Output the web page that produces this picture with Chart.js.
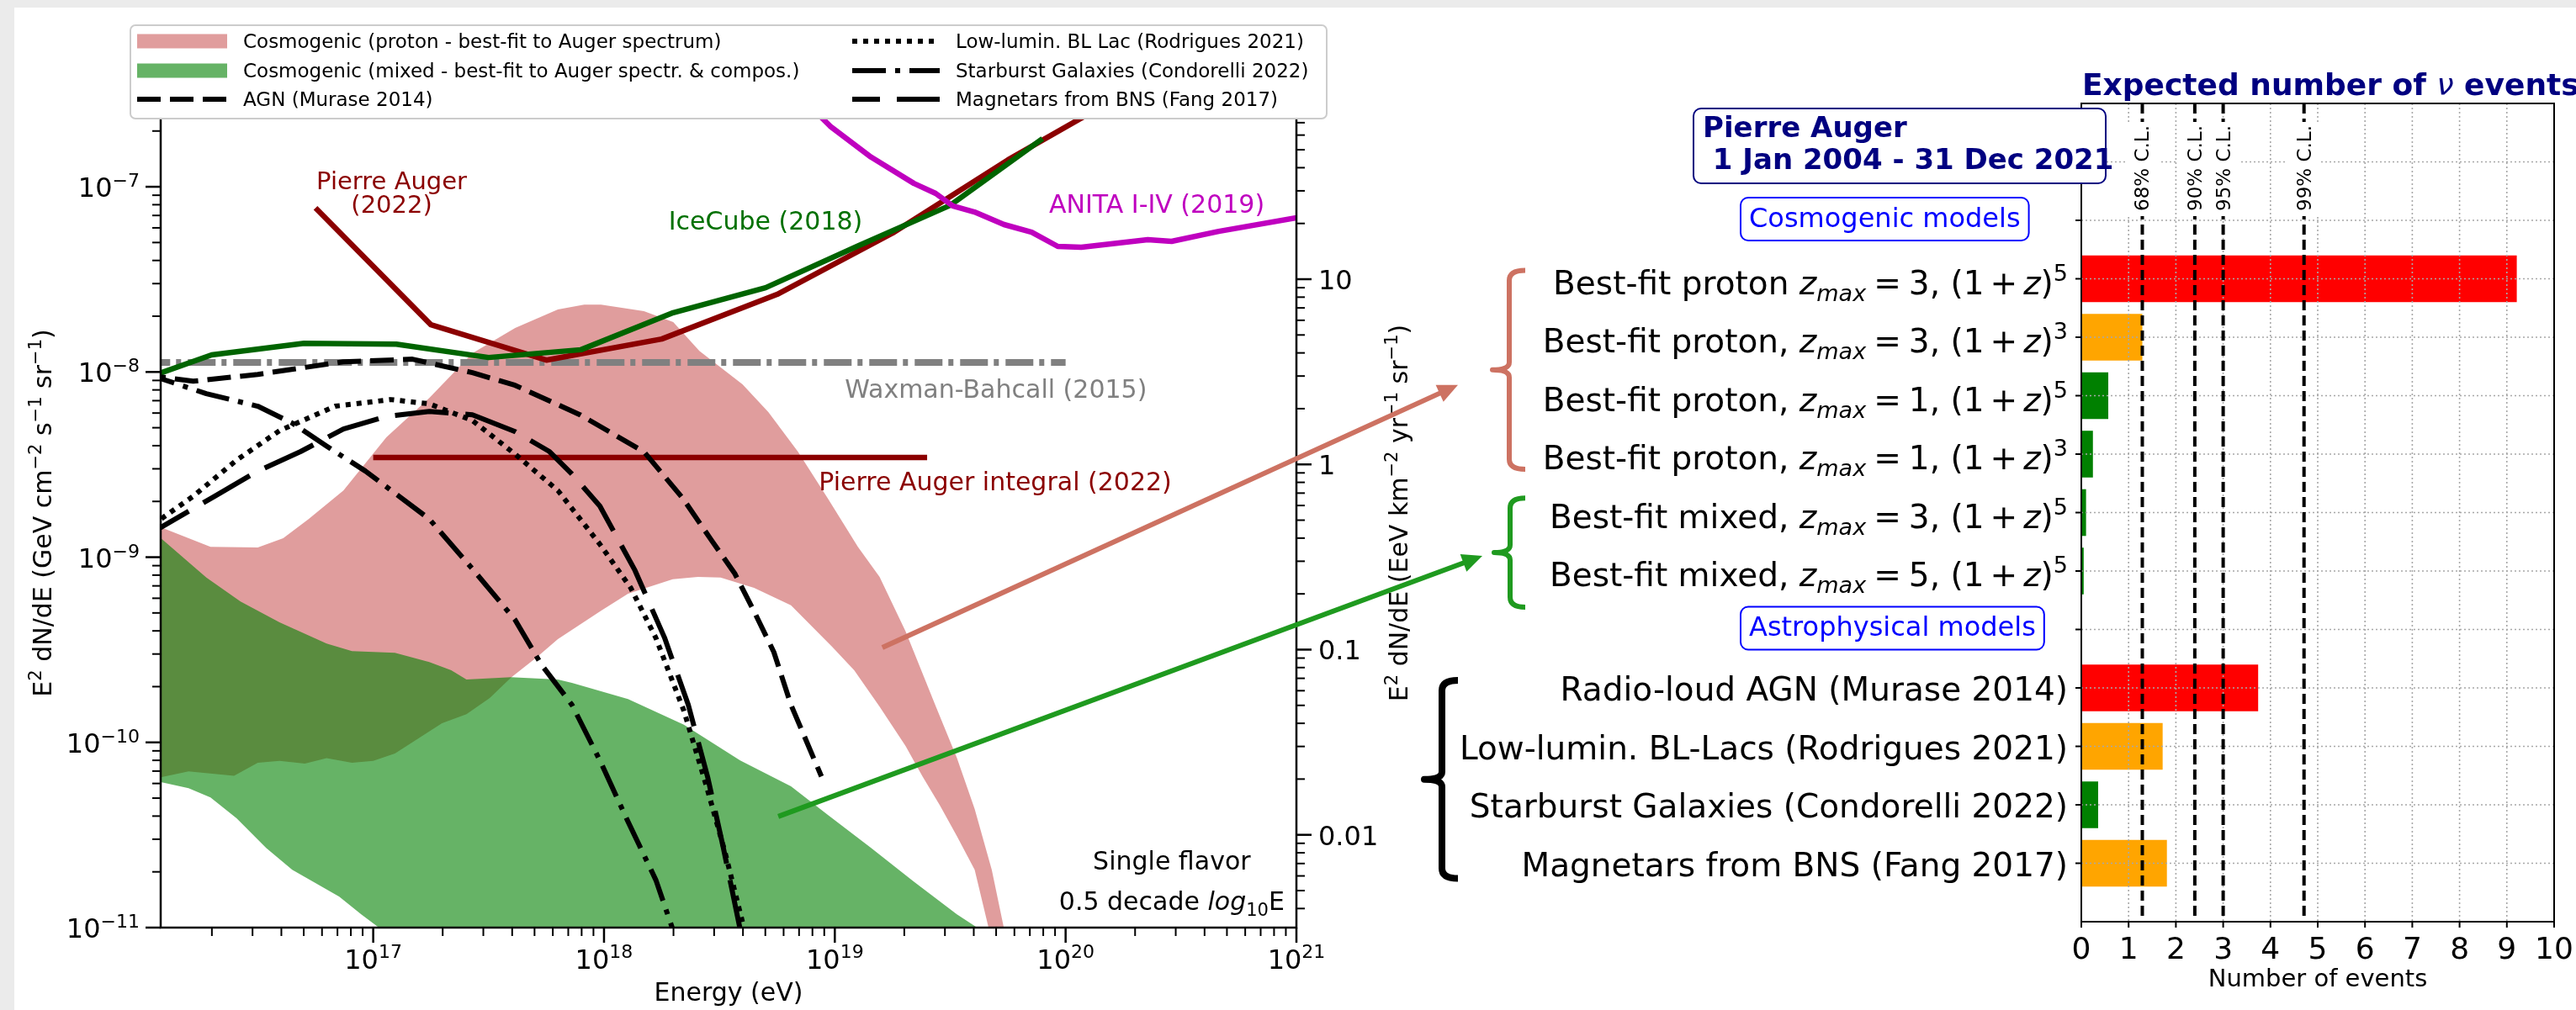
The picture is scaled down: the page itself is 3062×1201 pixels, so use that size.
<!DOCTYPE html>
<html>
<head>
<meta charset="utf-8">
<script src="https://cdn.jsdelivr.net/npm/chart.js"></script>
<style>
  html, body { margin: 0; padding: 0; background: #ebebeb; }
  #wrap { position: relative; width: 3062px; height: 1201px; overflow: hidden; }
  #paper { position: absolute; left: 17px; top: 9px; right: 0; bottom: 0; background: #fff; }
  canvas { position: absolute; left: 0; top: 0; }
</style>
</head>
<body>
<div id="wrap">
  <div id="paper"></div>
  <canvas id="spectrum" width="3062" height="1201"></canvas>
  <canvas id="events" width="3062" height="1201"></canvas>
</div>
<script>
// ---- left panel: log10(E / eV) and log10(E^2 dN/dE / GeV cm^-2 s^-1 sr^-1) ----
const augerDiffLogE = [16.75, 17.25, 17.75, 18.25, 18.75, 19.25, 19.75, 20.25];
const augerDiffLogF = [-7.114, -7.745, -7.936, -7.822, -7.581, -7.25, -6.855, -6.5];

const augerIntLogE = [17.0, 19.4];
const augerIntLogF = [-8.462, -8.462];

const icecubeLogE = [16.0, 16.3, 16.7, 17.1, 17.5, 17.9, 18.3, 18.7, 19.1, 19.5, 19.9];
const icecubeLogF = [-8.04, -7.908, -7.845, -7.85, -7.922, -7.88, -7.68, -7.545, -7.32, -7.10, -6.74];

const anitaLogE = [18.8, 18.98, 19.157, 19.343, 19.437, 19.511, 19.605, 19.733, 19.853, 19.966, 20.068, 20.356, 20.459, 20.663, 21.0];
const anitaLogF = [-6.45, -6.673, -6.84, -6.982, -7.036, -7.104, -7.136, -7.204, -7.245, -7.322, -7.327, -7.286, -7.295, -7.241, -7.168];

const wbLogE = [16.0, 20.0];
const wbLogF = [-7.949, -7.949];

const agnLogE = [16.0, 16.08, 16.22, 16.5, 16.87, 17.17, 17.43, 17.615, 17.896, 18.173, 18.34, 18.468, 18.566, 18.65, 18.736, 18.81, 18.942];
const agnLogF = [-8.01, -8.027, -8.05, -8.013, -7.945, -7.931, -8.004, -8.072, -8.231, -8.431, -8.68, -8.913, -9.087, -9.292, -9.513, -9.797, -10.184];

const bllacLogE = [16.0, 16.08, 16.22, 16.408, 16.594, 16.835, 17.075, 17.243, 17.43, 17.615, 17.80, 17.982, 18.116, 18.224, 18.346, 18.444, 18.523, 18.608];
const bllacLogF = [-8.85, -8.794, -8.671, -8.476, -8.317, -8.185, -8.149, -8.172, -8.262, -8.444, -8.64, -8.93, -9.166, -9.434, -9.829, -10.237, -10.587, -11.01];

const starburstLogE = [16.0, 16.08, 16.277, 16.5, 16.649, 16.798, 16.966, 17.112, 17.243, 17.429, 17.615, 17.728, 17.861, 17.982, 18.104, 18.225, 18.298];
const starburstLogF = [-8.0, -8.036, -8.117, -8.185, -8.276, -8.4, -8.535, -8.671, -8.794, -9.062, -9.339, -9.579, -9.797, -10.097, -10.428, -10.744, -11.01];

const magnetarLogE = [16.0, 16.08, 16.313, 16.5, 16.685, 16.871, 17.057, 17.243, 17.43, 17.615, 17.764, 17.861, 17.982, 18.134, 18.262, 18.365, 18.45, 18.517, 18.59];
const magnetarLogF = [-8.9, -8.839, -8.671, -8.535, -8.43, -8.308, -8.24, -8.213, -8.231, -8.322, -8.43, -8.551, -8.724, -9.071, -9.434, -9.797, -10.192, -10.569, -11.01];

// bands: upper and lower edges
const protonUpLogE = [16.0, 16.08, 16.295, 16.5, 16.61, 16.72, 16.871, 17.057, 17.243, 17.43, 17.615, 17.80, 17.914, 17.987, 18.173, 18.30, 18.413, 18.6, 18.712, 18.84, 18.971, 19.10, 19.194, 19.307, 19.438, 19.529, 19.606, 19.68, 19.733, 19.76];
const protonUpLogF = [-8.80, -8.839, -8.944, -8.948, -8.898, -8.794, -8.64, -8.353, -8.14, -7.899, -7.763, -7.663, -7.636, -7.636, -7.672, -7.731, -7.886, -8.067, -8.217, -8.43, -8.685, -8.944, -9.107, -9.402, -9.807, -10.084, -10.36, -10.688, -11.005, -11.15];
const protonLoLogE = [16.0, 16.08, 16.2, 16.397, 16.5, 16.594, 16.704, 16.798, 16.908, 17.0, 17.094, 17.206, 17.298, 17.404, 17.505, 17.597, 17.71, 17.80, 17.987, 18.104, 18.298, 18.407, 18.505, 18.65, 18.81, 18.989, 19.084, 19.194, 19.307, 19.38, 19.456, 19.529, 19.606, 19.667, 19.70];
const protonLoLogF = [-10.17, -10.188, -10.156, -10.18, -10.11, -10.1, -10.115, -10.085, -10.11, -10.1, -10.06, -9.97, -9.897, -9.848, -9.76, -9.65, -9.539, -9.442, -9.289, -9.197, -9.119, -9.107, -9.11, -9.166, -9.26, -9.484, -9.611, -9.807, -10.02, -10.184, -10.342, -10.506, -10.688, -11.005, -11.15];

const mixedUpLogE = [16.0, 16.08, 16.277, 16.425, 16.594, 16.798, 16.908, 17.094, 17.243, 17.338, 17.404, 17.597, 17.80, 17.861, 18.104, 18.346, 18.59, 18.81, 18.971, 19.157, 19.343, 19.529, 19.623, 19.66];
const mixedUpLogF = [-8.85, -8.898, -9.11, -9.239, -9.352, -9.466, -9.507, -9.516, -9.566, -9.611, -9.661, -9.648, -9.661, -9.679, -9.766, -9.904, -10.097, -10.237, -10.393, -10.57, -10.752, -10.929, -11.005, -11.06];
const mixedLoLogE = [16.0, 16.08, 16.2, 16.295, 16.408, 16.536, 16.649, 16.74, 16.853, 16.948, 17.03, 17.06];
const mixedLoLogF = [-10.2, -10.215, -10.247, -10.297, -10.41, -10.57, -10.688, -10.752, -10.833, -10.929, -11.005, -11.06];

// axes
const energyTickExp = [17, 18, 19, 20, 21];
const fluxTickExp = [-11, -10, -9, -8, -7];
const rateTickLabels = ['0.01', '0.1', '1', '10'];
const gevToEevKmYr = 3.156e8;   // GeV cm^-2 s^-1 -> EeV km^-2 yr^-1

// ---- right panel ----
const cosmoComposition = ['proton', 'proton', 'proton', 'proton', 'mixed', 'mixed'];
const cosmoSep = ['', ',', ',', ',', ',', ','];
const cosmoZmax = [3, 3, 1, 1, 3, 5];
const cosmoEvolution = [5, 3, 5, 3, 5, 5];
const cosmoEvents = [9.21, 1.29, 0.57, 0.245, 0.10, 0.05];
const cosmoColors = ['red', 'orange', 'green', 'green', 'green', 'green'];

const astroModels = ['Radio-loud AGN (Murase 2014)', 'Low-lumin. BL-Lacs (Rodrigues 2021)', 'Starburst Galaxies (Condorelli 2022)', 'Magnetars from BNS (Fang 2017)'];
const astroEvents = [3.74, 1.72, 0.356, 1.81];
const astroColors = ['red', 'orange', 'green', 'orange'];

const clLevels = ['68% C.L.', '90% C.L.', '95% C.L.', '99% C.L.'];
const clEvents = [1.29, 2.40, 3.00, 4.71];
const eventTicks = [0, 1, 2, 3, 4, 5, 6, 7, 8, 9, 10];

const rowLabels = ['', 'Pierre Auger', 'Cosmogenic models']
  .concat(cosmoComposition.map((c, k) => 'Best-fit ' + c + cosmoSep[k] + ' zmax=' + cosmoZmax[k] + ', (1+z)^' + cosmoEvolution[k]))
  .concat(['Astrophysical models'], astroModels, ['']);
const cosmoRow0 = 3;
const astroRow0 = cosmoRow0 + cosmoComposition.length + 1;
const barValues = [null, null, null].concat(cosmoEvents, [null], astroEvents, [null]);
const barColors = ['', '', ''].concat(cosmoColors, [''], astroColors, ['']);

// ---- helpers ----
const FONT = '"DejaVu Sans", "Liberation Sans", sans-serif';
function font(p) { return (p.i ? 'italic ' : '') + (p.b ? 'bold ' : '') + p.s + 'px ' + FONT; }
function richWidth(ctx, parts) {
  let w = 0;
  parts.forEach(p => { ctx.font = font(p); w += (p.gl || 0) + ctx.measureText(p.t).width + (p.gr || 0); });
  return w;
}
function drawRich(ctx, parts, x, y, align) {
  const w = richWidth(ctx, parts);
  let cx = align === 'right' ? x - w : align === 'center' ? x - w / 2 : x;
  ctx.textAlign = 'left';
  ctx.textBaseline = 'alphabetic';
  parts.forEach(p => {
    ctx.font = font(p);
    cx += p.gl || 0;
    ctx.fillText(p.t, cx, y + (p.dy || 0));
    cx += ctx.measureText(p.t).width + (p.gr || 0);
  });
  return w;
}
function seg(ctx, x0, y0, x1, y1) { ctx.beginPath(); ctx.moveTo(x0, y0); ctx.lineTo(x1, y1); ctx.stroke(); }
function logTicks(min, max) {
  const out = [];
  for (let d = Math.floor(Math.log10(min)); d <= Math.ceil(Math.log10(max)); d++) {
    for (let m = 1; m <= 9; m++) {
      const v = m * Math.pow(10, d);
      if (v >= min * 0.999 && v <= max * 1.001) out.push({ v, major: m === 1 });
    }
  }
  return out;
}
function series(logE, logF) { return logE.map((e, i) => ({ x: Math.pow(10, e), y: Math.pow(10, logF[i]) })); }
function band(upE, upF, loE, loF) { return series(upE, upF).concat(series(loE, loF).reverse()); }

// text notes on the spectrum, anchored in data coordinates
const spectrumNotes = [
  { parts: [[{ t: 'Pierre Auger', s: 29 }], [{ t: '(2022)', s: 29 }]], logE: 17.08, logF: -7.014, color: '#8b0000' },
  { parts: [[{ t: 'IceCube (2018)', s: 30 }]], logE: 18.70, logF: -7.232, color: '#007000' },
  { parts: [[{ t: 'ANITA I-IV (2019)', s: 30 }]], logE: 20.395, logF: -7.141, color: '#bf00bf' },
  { parts: [[{ t: 'Waxman-Bahcall (2015)', s: 30 }]], logE: 19.698, logF: -8.14, color: '#808080' },
  { parts: [[{ t: 'Pierre Auger integral (2022)', s: 30 }]], logE: 19.695, logF: -8.639, color: '#8b0000' },
  { parts: [[{ t: 'Single flavor', s: 30 }],
            [{ t: '0.5 decade ', s: 30 }, { t: 'log', s: 30, i: true }, { t: '10', s: 21, dy: 7 }, { t: 'E', s: 30 }]],
    logE: 20.46, logF: -10.687, color: '#000', lineGap: 48 }
];

const spectrumDecor = {
  id: 'spectrumDecor',
  afterDatasetsDraw(chart) {
    const { ctx, chartArea: a } = chart;
    const { x, y, y2 } = chart.scales;
    ctx.save();
    ctx.strokeStyle = '#000';
    ctx.fillStyle = '#000';
    ctx.setLineDash([]);

    // ticks
    logTicks(x.min, x.max).forEach(t => {
      const px = x.getPixelForValue(t.v);
      ctx.lineWidth = t.major ? 2.5 : 2;
      seg(ctx, px, a.bottom, px, a.bottom + (t.major ? 18 : 10));
    });
    logTicks(y.min, y.max).forEach(t => {
      const py = y.getPixelForValue(t.v);
      ctx.lineWidth = t.major ? 2.5 : 2;
      seg(ctx, a.left, py, a.left - (t.major ? 18 : 10), py);
    });
    logTicks(y2.min, y2.max).forEach(t => {
      const py = y2.getPixelForValue(t.v);
      ctx.lineWidth = t.major ? 2.5 : 2;
      seg(ctx, a.right, py, a.right + (t.major ? 18 : 10), py);
    });
    ctx.lineWidth = 2.5;
    ctx.strokeRect(a.left, a.top, a.right - a.left, a.bottom - a.top);

    // tick labels
    energyTickExp.forEach(e => drawRich(ctx, [{ t: '10', s: 32 }, { t: String(e), s: 22, dy: -13 }],
      x.getPixelForValue(Math.pow(10, e)), a.bottom + 49, 'center'));
    fluxTickExp.forEach(e => drawRich(ctx, [{ t: '10', s: 32 }, { t: '\u2212' + (-e), s: 22, dy: -12 }],
      a.left - 25, y.getPixelForValue(Math.pow(10, e)) + 12, 'right'));
    rateTickLabels.forEach(s => drawRich(ctx, [{ t: s, s: 32 }], a.right + 26, y2.getPixelForValue(parseFloat(s)) + 12, 'left'));

    // axis labels
    drawRich(ctx, [{ t: 'Energy (eV)', s: 30 }], (a.left + a.right) / 2, a.bottom + 87, 'center');
    const sup = t => ({ t, s: 21, dy: -12 });
    ctx.save();
    ctx.translate(a.left - 130, (a.top + a.bottom) / 2);
    ctx.rotate(-Math.PI / 2);
    drawRich(ctx, [{ t: 'E', s: 30 }, sup('2'), { t: ' dN/dE (GeV cm', s: 30 }, sup('\u22122'), { t: ' s', s: 30 }, sup('\u22121'),
      { t: ' sr', s: 30 }, sup('\u22121'), { t: ')', s: 30 }], 0, 0, 'center');
    ctx.restore();
    ctx.save();
    ctx.translate(a.right + 132, (a.top + a.bottom) / 2);
    ctx.rotate(-Math.PI / 2);
    drawRich(ctx, [{ t: 'E', s: 30 }, sup('2'), { t: ' dN/dE (EeV km', s: 30 }, sup('\u22122'), { t: ' yr', s: 30 }, sup('\u22121'),
      { t: ' sr', s: 30 }, sup('\u22121'), { t: ')', s: 30 }], 0, 0, 'center');
    ctx.restore();

    // notes
    spectrumNotes.forEach(n => {
      const px = x.getPixelForValue(Math.pow(10, n.logE));
      const py = y.getPixelForValue(Math.pow(10, n.logF));
      ctx.fillStyle = n.color;
      n.parts.forEach((line, k) => drawRich(ctx, line, px, py + k * (n.lineGap || 28), 'center'));
    });

    // legend
    const lx0 = a.left - 36, lx1 = a.right + 36, ly0 = a.top - 87, ly1 = a.top + 24;
    ctx.fillStyle = '#fff';
    ctx.strokeStyle = '#cccccc';
    ctx.lineWidth = 2;
    ctx.beginPath();
    ctx.roundRect(lx0, ly0, lx1 - lx0, ly1 - ly0, 6);
    ctx.fill();
    ctx.stroke();
    const colX = [a.left - 28, a.left + 822];
    const colW = [107, 104];
    const rowY = [a.top - 68, a.top - 33, a.top + 1];
    chart.data.datasets.forEach(ds => {
      if (!ds.legendSlot) return;
      const [c, r] = ds.legendSlot;
      const sx = colX[c], sy = rowY[r];
      if (ds.fill) {
        ctx.fillStyle = ds.backgroundColor;
        ctx.fillRect(sx, sy - 8.5, colW[c], 17);
      } else {
        ctx.strokeStyle = ds.borderColor;
        ctx.lineWidth = ds.borderWidth;
        ctx.setLineDash(ds.borderDash || []);
        ctx.lineDashOffset = ds.legendDashOffset || 0;
        seg(ctx, sx, sy, sx + colW[c], sy);
        ctx.setLineDash([]);
        ctx.lineDashOffset = 0;
      }
      ctx.fillStyle = '#000';
      drawRich(ctx, [{ t: ds.label, s: 23 }], sx + colW[c] + 19, sy + 8, 'left');
    });
    ctx.restore();
  }
};

const lineStyle = { pointRadius: 0, fill: false, borderJoinStyle: 'round', clip: 0, tension: 0 };

const spectrumChart = new Chart(document.getElementById('spectrum'), {
  type: 'line',
  data: {
    datasets: [
      Object.assign({}, lineStyle, { label: 'Cosmogenic (proton - best-fit to Auger spectrum)',
        data: band(protonUpLogE, protonUpLogF, protonLoLogE, protonLoLogF),
        fill: 'shape', backgroundColor: 'rgba(193,59,59,0.5)', borderColor: 'transparent', borderWidth: 0, order: 20, legendSlot: [0, 0] }),
      Object.assign({}, lineStyle, { label: 'Cosmogenic (mixed - best-fit to Auger spectr. & compos.)',
        data: band(mixedUpLogE, mixedUpLogF, mixedLoLogE, mixedLoLogF),
        fill: 'shape', backgroundColor: 'rgba(0,128,0,0.6)', borderColor: 'transparent', borderWidth: 0, order: 19, legendSlot: [0, 1] }),
      Object.assign({}, lineStyle, { label: 'Waxman-Bahcall (2015)', data: series(wbLogE, wbLogF),
        borderColor: '#808080', borderWidth: 8, borderDash: [33, 7, 6, 8], order: 9 }),
      Object.assign({}, lineStyle, { label: 'Pierre Auger integral (2022)', data: series(augerIntLogE, augerIntLogF),
        borderColor: '#8b0000', borderWidth: 6.5, order: 8 }),
      Object.assign({}, lineStyle, { label: 'Pierre Auger (2022)', data: series(augerDiffLogE, augerDiffLogF),
        borderColor: '#8b0000', borderWidth: 6.5, order: 7 }),
      Object.assign({}, lineStyle, { label: 'IceCube (2018)', data: series(icecubeLogE, icecubeLogF),
        borderColor: '#006400', borderWidth: 6.5, order: 6 }),
      Object.assign({}, lineStyle, { label: 'ANITA I-IV (2019)', data: series(anitaLogE, anitaLogF),
        borderColor: '#bf00bf', borderWidth: 6.5, order: 5 }),
      Object.assign({}, lineStyle, { label: 'AGN (Murase 2014)', data: series(agnLogE, agnLogF),
        borderColor: '#000', borderWidth: 6, borderDash: [28, 11], order: 4, legendSlot: [0, 2] }),
      Object.assign({}, lineStyle, { label: 'Low-lumin. BL Lac (Rodrigues 2021)', data: series(bllacLogE, bllacLogF),
        borderColor: '#000', borderWidth: 6, borderDash: [6, 7], order: 3, legendSlot: [1, 0] }),
      Object.assign({}, lineStyle, { label: 'Starburst Galaxies (Condorelli 2022)', data: series(starburstLogE, starburstLogF),
        borderColor: '#000', borderWidth: 6, borderDash: [40, 11, 6, 11], order: 2, legendSlot: [1, 1] }),
      Object.assign({}, lineStyle, { label: 'Magnetars from BNS (Fang 2017)', data: series(magnetarLogE, magnetarLogF),
        borderColor: '#000', borderWidth: 6, borderDash: [64, 20], order: 1, legendSlot: [1, 2], legendDashOffset: 31 })
    ]
  },
  options: {
    responsive: false,
    animation: false,
    events: [],
    layout: { padding: { left: 191, top: 117, right: 3062 - 1541, bottom: 1201 - 1103 } },
    scales: {
      x: { type: 'logarithmic', min: 1.2e16, max: 1e21, display: false },
      y: { type: 'logarithmic', min: 1e-11, max: 3e-7, display: false },
      y2: { type: 'logarithmic', position: 'right', min: 1e-11 * gevToEevKmYr, max: 3e-7 * gevToEevKmYr, display: false }
    },
    plugins: { legend: { display: false }, tooltip: { enabled: false } }
  },
  plugins: [spectrumDecor]
});

// braces (row span in category units, x offsets from the bar axes' left edge) and arrows
const braceSpecs = [
  { rows: [2.855, 6.26], color: '#cd7262', width: 6, xEnd: -661, xBar: -680, xTip: -700 },
  { rows: [6.75, 8.62], color: '#1f9a1f', width: 6, xEnd: -661, xBar: -679, xTip: -698 },
  { rows: [9.87, 13.26], color: '#000', width: 8, xEnd: -741, xBar: -760, xTip: -781 }
];
const arrowSpecs = [
  { logE: 19.206, logF: -9.488, brace: 0, dx: -41, dy: 18, color: '#cd7262' },
  { logE: 18.755, logF: -10.40, brace: 1, dx: -14, dy: 4, color: '#1f9a1f' }
];

function drawArrow(ctx, x0, y0, x1, y1, color) {
  const ang = Math.atan2(y1 - y0, x1 - x0), hl = 24, hw = 11;
  const bx = x1 - hl * Math.cos(ang), by = y1 - hl * Math.sin(ang);
  ctx.strokeStyle = color;
  ctx.fillStyle = color;
  ctx.lineWidth = 6;
  ctx.setLineDash([]);
  seg(ctx, x0, y0, bx + 2 * Math.cos(ang), by + 2 * Math.sin(ang));
  ctx.beginPath();
  ctx.moveTo(x1, y1);
  ctx.lineTo(bx + hw * Math.sin(ang), by - hw * Math.cos(ang));
  ctx.lineTo(bx - hw * Math.sin(ang), by + hw * Math.cos(ang));
  ctx.closePath();
  ctx.fill();
}

const eventsDecor = {
  id: 'eventsDecor',
  afterDatasetsDraw(chart) {
    const { ctx, chartArea: a } = chart;
    const { x, y } = chart.scales;
    const rowY = i => y.getPixelForValue(i);
    ctx.save();

    // dotted grid (drawn above the bars, like matplotlib)
    ctx.strokeStyle = '#a8a8a8';
    ctx.lineWidth = 1.6;
    ctx.setLineDash([2, 3]);
    eventTicks.forEach(v => { const px = x.getPixelForValue(v); seg(ctx, px, a.top, px, a.bottom); });
    rowLabels.forEach((_, i) => { const py = rowY(i); seg(ctx, a.left, py, a.right, py); });

    // confidence-level lines
    ctx.strokeStyle = '#000';
    ctx.lineWidth = 4;
    ctx.setLineDash([12, 6]);
    clEvents.forEach(v => { const px = x.getPixelForValue(v); seg(ctx, px, a.top, px, a.bottom); });
    ctx.setLineDash([]);
    clEvents.forEach((v, k) => {
      const px = x.getPixelForValue(v);
      ctx.fillStyle = '#fff';
      ctx.fillRect(px - 20, a.top + 22, 40, 112);
      ctx.save();
      ctx.translate(px + 8, a.top + 77);
      ctx.rotate(-Math.PI / 2);
      ctx.fillStyle = '#000';
      drawRich(ctx, [{ t: clLevels[k], s: 23 }], 0, 0, 'center');
      ctx.restore();
    });

    // spines and ticks
    ctx.strokeStyle = '#000';
    ctx.lineWidth = 2;
    ctx.strokeRect(a.left, a.top, a.right - a.left, a.bottom - a.top);
    for (let i = 1; i < rowLabels.length - 1; i++) seg(ctx, a.left, rowY(i), a.left - 7, rowY(i));
    eventTicks.forEach(v => { const px = x.getPixelForValue(v); seg(ctx, px, a.bottom, px, a.bottom + 7); });

    ctx.fillStyle = '#000';
    eventTicks.forEach(v => drawRich(ctx, [{ t: String(v), s: 36 }], x.getPixelForValue(v), a.bottom + 44, 'center'));
    drawRich(ctx, [{ t: 'Number of events', s: 29 }], (a.left + a.right) / 2, a.bottom + 77, 'center');

    ctx.fillStyle = '#000080';
    drawRich(ctx, [{ t: 'Expected number of ', s: 36, b: true }, { t: '\u03bd', s: 36, i: true }, { t: ' events', s: 36, b: true }],
      a.left + 1, a.top - 10, 'left');

    // row labels
    ctx.fillStyle = '#000';
    cosmoComposition.forEach((c, k) => {
      drawRich(ctx, [
        { t: 'Best-fit ' + c + cosmoSep[k] + ' ', s: 39 },
        { t: 'z', s: 39, i: true },
        { t: 'max', s: 27, i: true, dy: 8 },
        { t: '=', s: 39, gl: 9, gr: 9 },
        { t: cosmoZmax[k] + ',', s: 39 },
        { t: ' (1', s: 39 },
        { t: '+', s: 39, gl: 7, gr: 7 },
        { t: 'z', s: 39, i: true },
        { t: ')', s: 39 },
        { t: String(cosmoEvolution[k]), s: 27, dy: -16 }
      ], a.left - 16, rowY(cosmoRow0 + k) + 18, 'right');
    });
    astroModels.forEach((m, k) => drawRich(ctx, [{ t: m, s: 39 }], a.left - 16, rowY(astroRow0 + k) + 15, 'right'));

    // info and section boxes
    ctx.fillStyle = '#fff';
    ctx.strokeStyle = '#000080';
    ctx.lineWidth = 2;
    ctx.beginPath();
    ctx.roundRect(a.left - 461, a.top + 6, 490, 89, 9);
    ctx.fill();
    ctx.stroke();
    ctx.fillStyle = '#000080';
    drawRich(ctx, [{ t: 'Pierre Auger', s: 34, b: true }], a.left - 450, a.top + 40, 'left');
    drawRich(ctx, [{ t: ' 1 Jan 2004 - 31 Dec 2021', s: 34, b: true }], a.left - 450, a.top + 78, 'left');

    [2, cosmoRow0 + cosmoComposition.length].forEach(i => {
      const cy = rowY(i) - 1.5;
      const w = richWidth(ctx, [{ t: rowLabels[i], s: 32 }]);
      const tx = a.left - 395;
      ctx.fillStyle = '#fff';
      ctx.strokeStyle = '#0000ff';
      ctx.lineWidth = 2;
      ctx.beginPath();
      ctx.roundRect(tx - 10, cy - 25.5, w + 20, 51, 9);
      ctx.fill();
      ctx.stroke();
      ctx.fillStyle = '#0000ff';
      drawRich(ctx, [{ t: rowLabels[i], s: 32 }], tx, cy + 9, 'left');
    });

    // braces
    const tips = braceSpecs.map(b => {
      const top = y.getPixelForValue(b.rows[0]), bot = y.getPixelForValue(b.rows[1]);
      const mid = (top + bot) / 2;
      const xe = a.left + b.xEnd, xb = a.left + b.xBar, xt = a.left + b.xTip;
      ctx.strokeStyle = b.color;
      ctx.lineWidth = b.width;
      ctx.lineJoin = 'round';
      ctx.beginPath();
      ctx.moveTo(xe, top);
      ctx.quadraticCurveTo(xb, top, xb, top + 12);
      ctx.lineTo(xb, mid - 9);
      ctx.quadraticCurveTo(xb, mid, xt, mid);
      ctx.quadraticCurveTo(xb, mid, xb, mid + 9);
      ctx.lineTo(xb, bot - 12);
      ctx.quadraticCurveTo(xb, bot, xe, bot);
      ctx.stroke();
      return { x: xt, y: mid };
    });

    // arrows from the spectrum bands to the braces
    const sx = spectrumChart.scales.x, sy = spectrumChart.scales.y;
    arrowSpecs.forEach(ar => {
      drawArrow(ctx, sx.getPixelForValue(Math.pow(10, ar.logE)), sy.getPixelForValue(Math.pow(10, ar.logF)),
        tips[ar.brace].x + ar.dx, tips[ar.brace].y + ar.dy, ar.color);
    });
    ctx.restore();
  }
};

const eventsChart = new Chart(document.getElementById('events'), {
  type: 'bar',
  data: {
    labels: rowLabels,
    datasets: [{ data: barValues, backgroundColor: barColors, barPercentage: 0.8, categoryPercentage: 1.0 }]
  },
  options: {
    indexAxis: 'y',
    responsive: false,
    animation: false,
    events: [],
    layout: { padding: { left: 2474, top: 123, right: 3062 - 3036, bottom: 1201 - 1096 } },
    scales: {
      x: { type: 'linear', min: 0, max: 10, display: false },
      y: { type: 'category', offset: false, display: false }
    },
    plugins: { legend: { display: false }, tooltip: { enabled: false } }
  },
  plugins: [eventsDecor]
});
</script>
</body>
</html>
